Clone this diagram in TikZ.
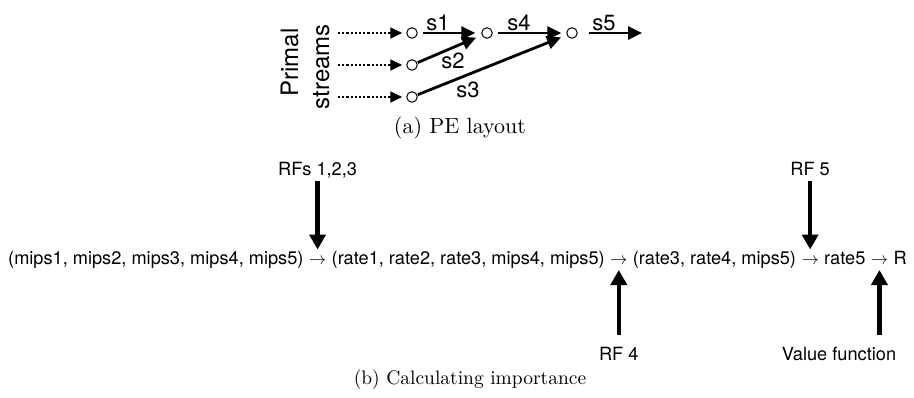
\documentclass[tikz,border=0pt]{standalone}
\usepackage{fontspec}
\newfontfamily\hv{TeX Gyre Heros}
\usetikzlibrary{arrows.meta}
\begin{document}
\begin{tikzpicture}[x=1pt,y=-1pt,
  rowtext/.style={font=\hv\fontsize{18.2}{20}\selectfont, inner sep=0pt, anchor=base west},
  lbl/.style={font=\hv\fontsize{18.2}{20}\selectfont, inner sep=0pt, anchor=base},
  slbl/.style={font=\hv\fontsize{22}{24}\selectfont, inner sep=0pt},
  sidelbl/.style={font=\hv\fontsize{24}{26}\selectfont, inner sep=0pt, rotate=90, anchor=base},
  captext/.style={font=\fontsize{10}{12}\selectfont, inner sep=0pt, anchor=base},
  pe/.style={circle, draw, line width=1pt, minimum size=10.5pt, inner sep=0pt},
  flow/.style={line width=2.8pt, -{Triangle[length=14pt,width=13pt]}},
  feed/.style={line width=2.2pt, dash pattern=on 2.2pt off 2pt, -{Triangle[length=12pt,width=11pt]}},
  big/.style={line width=4.5pt, -{Triangle[length=15pt,width=16pt]}}]
\useasboundingbox (0,0) rectangle (914,397);

% ---------- (a) PE layout ----------
\node[sidelbl] (prim) at (298,62.5) {Primal};
\node[sidelbl] (strm) at (329,66.7) {streams};

\coordinate (p1) at (338,33);
\coordinate (p2) at (338,65);
\coordinate (p3) at (338,97);
\node[pe] (c1) at (412,33) {};
\node[pe] (c2) at (412,65) {};
\node[pe] (c3) at (412,97) {};
\node[pe] (c4) at (487,33) {};
\node[pe] (c5) at (572,33) {};
\coordinate (e5) at (642,33);

\draw[feed, shorten >=4pt] (p1) -- (c1);
\draw[feed, shorten >=4pt] (p2) -- (c2);
\draw[feed, shorten >=4pt] (p3) -- (c3);

\draw[flow, shorten <=5pt, shorten >=6pt] (c1) -- (c4);
\draw[flow, shorten <=0.5pt, shorten >=6pt] (c2) -- (c4);
\draw[flow, shorten <=0.5pt, shorten >=6pt] (c3) -- (c5);
\draw[flow, shorten <=5pt, shorten >=5pt] (c4) -- (c5);
\draw[flow, shorten <=11pt] (c5) -- (e5);

\node[slbl] (s1) at (438,23) {s1};
\node[slbl] (s2) at (453,61) {s2};
\node[slbl] (s3) at (468,90) {s3};
\node[slbl] (s4) at (519,23) {s4};
\node[slbl] (s5) at (604,23) {s5};

\node[captext, scale=2.2] (capa) at (460,133) {(a) PE layout};

% ---------- (b) Calculating importance ----------
\node[rowtext] (m1) at (8,264) {(mips1, mips2, mips3, mips4, mips5)};
\node[rowtext] (a1) at (m1.base east) {\ $\rightarrow$\ \null};
\node[rowtext] (m2) at (a1.base east) {(rate1, rate2, rate3, mips4, mips5)};
\node[rowtext] (a2) at (m2.base east) {\ $\rightarrow$\ \null};
\node[rowtext] (m3) at (a2.base east) {(rate3, rate4, mips5)};
\node[rowtext] (a3) at (m3.base east) {\ $\rightarrow$\ \null};
\node[rowtext] (m4) at (a3.base east) {rate5};
\node[rowtext] (a4) at (m4.base east) {\ $\rightarrow$\ \null};
\node[rowtext] (m5) at (a4.base east) {R};

\coordinate (toprow) at (0,175);
\coordinate (botrow) at (0,360);
\node[lbl] (rf123) at (a1.base |- toprow) {RFs 1,2,3};
\node[lbl] (rf5) at (a3.base |- toprow) {RF 5};
\node[lbl] (rf4) at (a2.base |- botrow) {RF 4};
\node[lbl] (vf) at (839,360) {Value function};

\draw[big] ([yshift=-6pt]rf123.base) -- ([yshift=14.5pt]a1.base);
\draw[big] ([yshift=-6pt]rf5.base) -- ([yshift=14.5pt]a3.base);
\draw[big] ([yshift=25pt]rf4.base) -- ([yshift=-6pt]a2.base);
\draw[big] ([yshift=25pt]vf.base -| a4.base) -- ([yshift=-6pt]a4.base);

\node[captext, scale=1.95] (capb) at (470,384) {(b) Calculating importance};
\end{tikzpicture}
\end{document}
